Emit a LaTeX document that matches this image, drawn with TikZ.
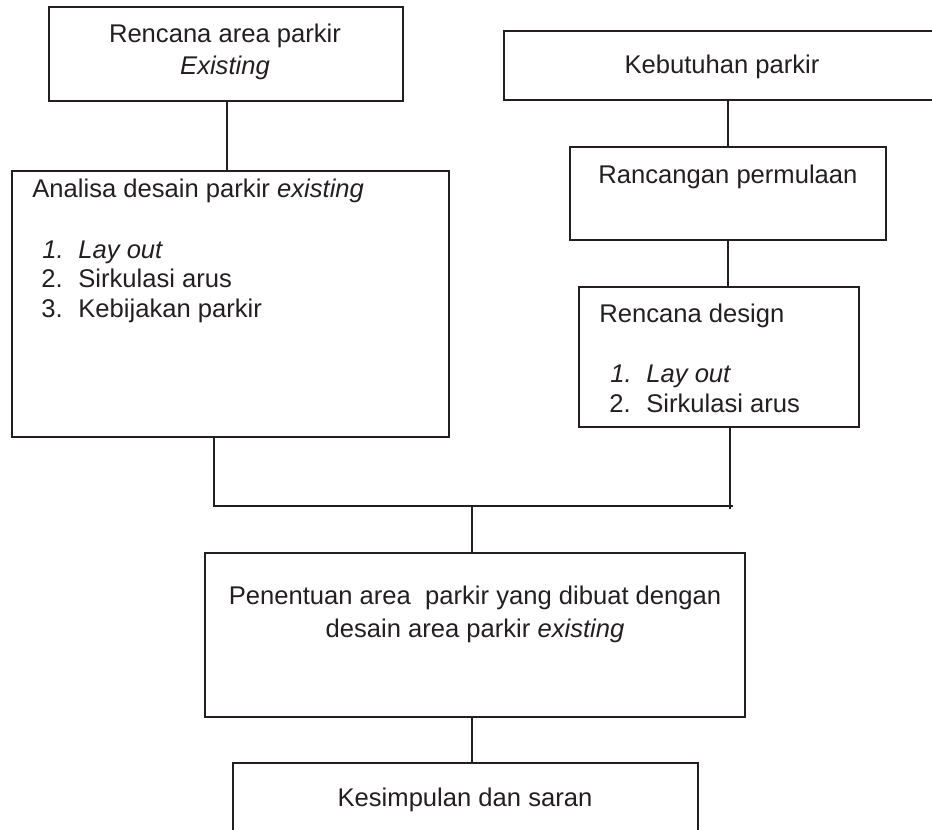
\documentclass[tikz,border=0pt]{standalone}
\usepackage{fontspec}
\setmainfont{Liberation Sans}
\definecolor{ink}{HTML}{231F20}
\begin{document}
\begin{tikzpicture}[x=0.5pt,y=-0.5pt,
  box/.style={draw=ink,line width=0.6pt,rectangle,inner sep=0pt,fill=none},
  txt/.style={inner sep=0pt,text=ink,font=\fontsize{12.8}{15}\selectfont},
  link/.style={draw=ink,line width=0.6pt}]
\useasboundingbox (0,0) rectangle (932,830);
\clip (0,0) rectangle (932,830);
% boxes
\node[box,minimum width=177pt,minimum height=47pt] (b1) at (226,54) {};
\node[box,minimum width=218pt,minimum height=34.5pt] (b2) at (722,65.5) {};
\node[box,minimum width=218.5pt,minimum height=133pt] (b3) at (230.5,304) {};
\node[box,minimum width=158pt,minimum height=46.5pt] (b4) at (728,193.5) {};
\node[box,minimum width=140pt,minimum height=70pt] (b5) at (719,357) {};
\node[box,minimum width=270pt,minimum height=82pt] (b6) at (475,635) {};
\node[box,minimum width=232.5pt,minimum height=53.5pt] (b7) at (465.5,816.5) {};
% texts
\node[txt,anchor=base] (t1a) at (225,42) {Rencana area parkir};
\node[txt,anchor=base] (t1b) at (225,74) {\itshape Existing};
\node[txt,anchor=base] (t2) at (722,73) {Kebutuhan parkir};
\node[txt,anchor=base west] (t3) at (32,197) {Analisa desain parkir \textit{existing}};
\node[txt,anchor=base west] (t3n1) at (42,258) {\itshape 1.};
\node[txt,anchor=base west] (t3i1) at (78,258) {\itshape Lay out};
\node[txt,anchor=base west] (t3n2) at (41,287) {2.};
\node[txt,anchor=base west] (t3i2) at (78,287) {Sirkulasi arus};
\node[txt,anchor=base west] (t3n3) at (41,317) {3.};
\node[txt,anchor=base west] (t3i3) at (78,317) {Kebijakan parkir};
\node[txt,anchor=base] (t4) at (728,183) {Rancangan permulaan};
\node[txt,anchor=base west] (t5) at (599,322) {Rencana design};
\node[txt,anchor=base west] (t5n1) at (610,382) {\itshape 1.};
\node[txt,anchor=base west] (t5i1) at (646,382) {\itshape Lay out};
\node[txt,anchor=base west] (t5n2) at (609,412) {2.};
\node[txt,anchor=base west] (t5i2) at (646,412) {Sirkulasi arus};
\node[txt,anchor=base] (t6a) at (475,604) {Penentuan area\ \ parkir yang dibuat dengan};
\node[txt,anchor=base] (t6b) at (475,637) {desain area parkir \textit{existing}};
\node[txt,anchor=base] (t7) at (465,806) {Kesimpulan dan saran};
% junction coordinates
\coordinate (jl) at (214,506);
\coordinate (jr) at (730,509);
\coordinate (je) at (733,506);
\coordinate (jm) at (472,506);
% connectors
\draw[link] (b1.south -| 227,0) -- (b3.north -| 227,0);
\draw[link] (b4.north) -- (b4.north |- b2.south);
\draw[link] (b4.south) -- (b4.south |- b5.north);
\draw[link] (jl |- b3.south) -- (jl) -- (je);
\draw[link] (jr |- b5.south) -- (jr);
\draw[link] (jm) -- (jm |- b6.north);
\draw[link] (jm |- b6.south) -- (jm |- b7.north);
\end{tikzpicture}
\end{document}
